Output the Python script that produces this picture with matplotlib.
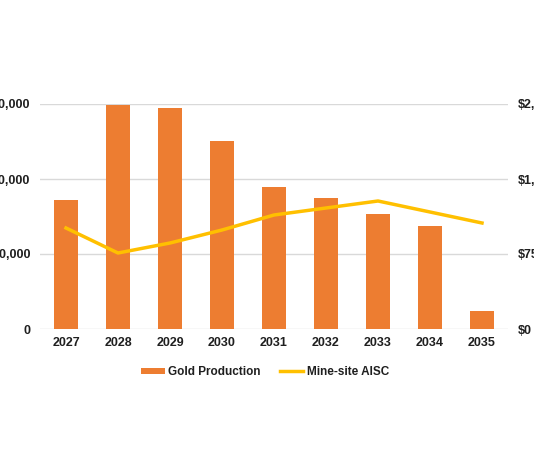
import matplotlib.pyplot as plt
from matplotlib.ticker import FuncFormatter

years = ["2027", "2028", "2029", "2030", "2031", "2032", "2033", "2034", "2035"]
gold_oz = [172000, 299000, 294500, 251000, 189000, 174500, 153500, 137500, 24000]
aisc = [1010, 760, 860, 990, 1140, 1210, 1280, 1170, 1060]
left_ticks = [0, 100000, 200000, 300000]
right_ticks = [0, 750, 1500, 2250]

bar_col = "#ED7D31"
line_col = "#FFC000"
grid_col = "#D9D9D9"
txt_col = "#1F1F1F"

plt.rcParams['font.family'] = ['Liberation Sans', 'DejaVu Sans']
plt.rcParams['font.weight'] = 'bold'

fig = plt.figure(figsize=(5.34, 4.62), dpi=100)
# axes placed so the outer tick labels run off the edges, like the cropped original
ax = fig.add_axes([40 / 534, 1 - 329 / 462, 468 / 534, 225 / 462])
x = range(len(years))

ax.bar(x, gold_oz, width=0.45, color=bar_col, zorder=2, label="Gold Production")
ax.set_ylim(0, 300000)
ax.set_xlim(-0.5, len(years) - 0.5)
ax.set_yticks(left_ticks)
ax.yaxis.set_major_formatter(FuncFormatter(lambda v, p: f"{int(v):,}"))
ax.grid(axis='y', color=grid_col, linewidth=1, zorder=0)
ax.set_xticks(list(x))
ax.set_xticklabels(years)

ax2 = ax.twinx()
ax2.plot(x, aisc, color=line_col, linewidth=2.5, zorder=3, label="Mine-site AISC")
ax2.set_ylim(0, 2250)
ax2.set_yticks(right_ticks)
ax2.yaxis.set_major_formatter(FuncFormatter(lambda v, p: f"${int(v):,}"))

for a in (ax, ax2):
    for s in a.spines.values():
        s.set_visible(False)
    a.tick_params(length=0, labelsize=9, colors=txt_col)
ax.tick_params(axis='y', pad=7)
ax.tick_params(axis='x', pad=6)
ax2.tick_params(axis='y', pad=7)

h1, l1 = ax.get_legend_handles_labels()
h2, l2 = ax2.get_legend_handles_labels()
fig.legend(h1 + h2, l1 + l2, loc='center', bbox_to_anchor=(265 / 534, 1 - 372 / 462),
           ncol=2, frameon=False, fontsize=8.5, handlelength=2.0, handleheight=0.4,
           handletextpad=0.3, columnspacing=1.6, labelcolor=txt_col)

fig.savefig("out.png", dpi=100)
